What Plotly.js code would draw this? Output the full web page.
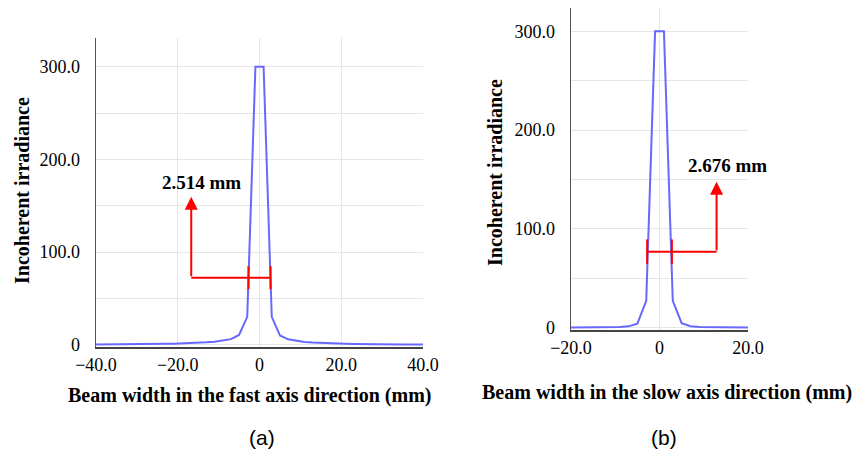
<!DOCTYPE html>
<html>
<head>
<meta charset="utf-8">
<script src="https://cdn.plot.ly/plotly-3.0.1.min.js"></script>
<style>
  html, body { margin: 0; padding: 0; background: #fff; }
  #chart { width: 857px; height: 457px; }
</style>
</head>
<body>
<div id="chart"></div>
<script>
// Fast-axis beam profile (position in mm, incoherent irradiance)
const fastX = [-40, -39, -37, -35, -33, -31, -29, -27, -25, -23, -21, -19, -17, -15, -13, -11, -9, -7, -5, -3, -1,
               1, 3, 5, 7, 9, 11, 13, 15, 17, 19, 21, 23, 25, 27, 29, 31, 33, 35, 37, 39, 40];
const fastY = [0.2, 0.2, 0.2, 0.3, 0.3, 0.4, 0.5, 0.6, 0.7, 0.9, 1.1, 1.3, 1.6, 2.0, 2.5, 3.2, 4.2, 6.0, 10.5, 30, 300,
               300, 30, 10, 5.8, 4.0, 3.0, 2.4, 1.9, 1.5, 1.2, 1.0, 0.8, 0.6, 0.5, 0.4, 0.3, 0.3, 0.2, 0.2, 0.2, 0.2];

// Slow-axis beam profile
const slowX = [-20, -19, -17, -15, -13, -11, -9, -7, -5, -3, -1, 1, 3, 5, 7, 9, 11, 13, 15, 17, 19, 20];
const slowY = [0.1, 0.1, 0.1, 0.2, 0.2, 0.3, 0.5, 1.2, 4.0, 27, 300, 300, 27, 4.5, 1.3, 0.5, 0.3, 0.2, 0.2, 0.1, 0.1, 0.1];

// Tick labels
const fastTickVals = [-40, -20, 0, 20, 40];
const fastTickText = ['\u221240.0', '\u221220.0', '0', '20.0', '40.0'];
const slowTickVals = [-20, 0, 20];
const slowTickText = ['\u221220.0', '0', '20.0'];
const yTickVals = [0, 100, 200, 300];
const yTickText = ['0', '100.0', '200.0', '300.0'];

// Beam-width markers: [left cap, right cap, level, arrow x, arrow tip y, label x, label y]
const widthLabels = ['2.514 mm', '2.676 mm'];
const fastMarker = [-2.7, 2.7, 72.3, -16.7, 159.6, -14.1, 175.5];
const slowMarker = [-2.8, 2.8, 76.7, 12.9, 147.7, 15.3, 164.5];

const W = 857, H = 457;
const px = v => v / W;
const py = v => 1 - v / H;

const serif = 'Liberation Serif, Times New Roman, serif';
const lineColor = 'rgb(104,104,255)';
const red = '#ff0000';
const grid = '#e6e6e6';

const traces = [
  { x: fastX, y: fastY, type: 'scatter', mode: 'lines', xaxis: 'x', yaxis: 'y',
    line: { color: lineColor, width: 2 }, hoverinfo: 'skip' },
  { x: slowX, y: slowY, type: 'scatter', mode: 'lines', xaxis: 'x2', yaxis: 'y2',
    line: { color: lineColor, width: 2 }, hoverinfo: 'skip' }
];

function xAxis(domain, range, vals, text, anchor) {
  return {
    domain, range, anchor, tickmode: 'array', tickvals: vals, ticktext: text,
    showgrid: true, gridcolor: grid, gridwidth: 1, zeroline: false,
    showline: true, linecolor: '#444', linewidth: 2, ticks: '',
    ticklabelstandoff: 0,
    tickfont: { family: serif, size: 18, color: '#000' }
  };
}
function yAxis(domain, range, anchor) {
  return {
    domain, range, anchor, tickmode: 'array', tickvals: yTickVals, ticktext: yTickText,
    showgrid: true, gridcolor: grid, gridwidth: 1, zeroline: false,
    minor: { tickvals: [50, 150, 250], showgrid: true, gridcolor: grid, gridwidth: 1 },
    showline: true, linecolor: '#555', linewidth: 1.5, ticks: '',
    ticklabelstandoff: 11,
    tickfont: { family: serif, size: 18, color: '#000' }
  };
}

// Horizontal bracket between the two caps, running out to the arrow
function markerShapes(m, xr, yr) {
  const cap = 12.5;
  const s = { xref: xr, yref: yr, type: 'line', line: { color: red, width: 2 } };
  return [
    Object.assign({}, s, { x0: Math.min(m[0], m[3]), x1: Math.max(m[1], m[3]), y0: m[2], y1: m[2] }),
    Object.assign({}, s, { x0: m[0], x1: m[0], y0: m[2] - cap, y1: m[2] + cap }),
    Object.assign({}, s, { x0: m[1], x1: m[1], y0: m[2] - cap, y1: m[2] + cap })
  ];
}
function markerNotes(m, label, xr, yr) {
  return [
    { xref: xr, yref: yr, axref: xr, ayref: yr, x: m[3], y: m[4], ax: m[3], ay: m[2],
      text: '', showarrow: true, arrowhead: 2, arrowsize: 1.3, arrowwidth: 2, arrowcolor: red, standoff: 0 },
    { xref: xr, yref: yr, x: m[5], y: m[6], text: '<b>' + label + '</b>', showarrow: false,
      xanchor: 'center', yanchor: 'middle', font: { family: serif, size: 19, color: '#000' } }
  ];
}

function paperText(text, x, y, opts) {
  return Object.assign({ xref: 'paper', yref: 'paper', x: px(x), y: py(y), text, showarrow: false,
    xanchor: 'center', yanchor: 'middle' }, opts);
}
const titleFont = { family: serif, size: 20, color: '#000' };
const panelFont = { family: 'Liberation Sans, Arial, sans-serif', size: 21, color: '#000' };

const layout = {
  width: W, height: H,
  margin: { l: 0, r: 0, t: 0, b: 0 },
  paper_bgcolor: '#fff', plot_bgcolor: '#fff',
  showlegend: false,
  xaxis: xAxis([px(96), px(423)], [-40, 40], fastTickVals, fastTickText, 'y'),
  yaxis: yAxis([py(347), py(38)], [-2.5, 331], 'x'),
  xaxis2: xAxis([px(571), px(748)], [-20, 20], slowTickVals, slowTickText, 'y2'),
  yaxis2: yAxis([py(330), py(8)], [-2.5, 323.6], 'x2'),
  shapes: [].concat(markerShapes(fastMarker, 'x', 'y'), markerShapes(slowMarker, 'x2', 'y2')),
  annotations: [].concat(
    markerNotes(fastMarker, widthLabels[0], 'x', 'y'),
    markerNotes(slowMarker, widthLabels[1], 'x2', 'y2'),
    [
      paperText('<b>Incoherent irradiance</b>', 22, 191, { textangle: -90, font: titleFont }),
      paperText('<b>Beam width in the fast axis direction (mm)</b>', 250, 395, { font: titleFont }),
      paperText('<b>Incoherent irradiance</b>', 495, 173, { textangle: -90, font: titleFont }),
      paperText('<b>Beam width in the slow axis direction (mm)</b>', 667, 392, { font: titleFont }),
      paperText('(a)', 262, 437, { font: panelFont }),
      paperText('(b)', 664, 437, { font: panelFont })
    ]
  )
};

Plotly.newPlot('chart', traces, layout, { staticPlot: true, displayModeBar: false });
</script>
</body>
</html>
